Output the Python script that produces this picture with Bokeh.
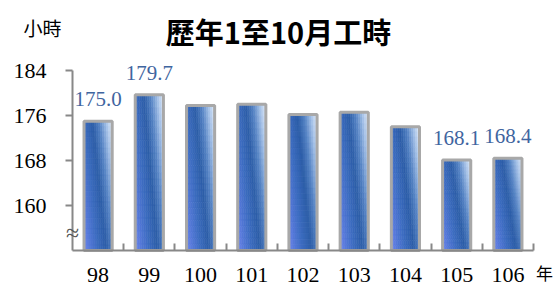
import numpy as np
from bokeh.plotting import figure
from bokeh.models import ColumnDataSource, FixedTicker, Label, LabelSet, Range1d
from bokeh.core.properties import value
from bokeh.embed import file_html
from bokeh.resources import INLINE

# ---- data ----
years = ["98", "99", "100", "101", "102", "103", "104", "105", "106"]
hours = [175.0, 179.7, 177.8, 178.0, 176.2, 176.6, 174.0, 168.1, 168.4]
shown_labels = ["175.0", "179.7", "", "", "", "", "", "168.1", "168.4"]
y_ticks = [160, 168, 176, 184]
y_floor = 152
y_top = 184
title_text = "歷年1至10月工時"
unit_y = "小時"
unit_x = "年"

SERIF = "Liberation Serif"
CJK = "Noto Sans CJK TC"

# ---- layout (pixels inside the canvas) ----
W, H = 558, 286
AX_LEFT, AX_RIGHT = 72, 533      # x pixel of category -0.5 and n-0.5
AX_TOP, AX_BOTTOM = 70, 250      # y pixel of y_top and y_floor

n = len(years)
idx = list(range(n))

px_x = (AX_RIGHT - AX_LEFT) / n
px_y = (AX_BOTTOM - AX_TOP) / (y_top - y_floor)
x0 = -0.5 - AX_LEFT / px_x
x1 = n - 0.5 + (W - AX_RIGHT) / px_x
y0 = y_floor - (H - AX_BOTTOM) / px_y
y1 = y_top + AX_TOP / px_y

p = figure(width=W, height=H, output_backend="svg", toolbar_location=None,
           x_range=Range1d(x0, x1), y_range=Range1d(y0, y1),
           min_border=0, min_border_left=0, min_border_right=0,
           min_border_top=0, min_border_bottom=0)
p.outline_line_color = None
p.grid.visible = False
p.background_fill_color = "white"
p.border_fill_color = "white"

# ---- gradient-filled bars (drawn as small cells) ----
bar_w = 0.55
ncol, nrow = 14, 24
stops_s = [-0.5, -0.25, 0.0, 0.3, 0.55, 0.8, 1.0]
stops_c = np.array([(0x70, 0x86, 0xee), (0x52, 0x77, 0xd6), (0x3c, 0x6c, 0xc0),
                    (0x2d, 0x5e, 0xa8), (0x55, 0x83, 0xc4), (0xa6, 0xc2, 0xe8),
                    (0xe0, 0xeb, 0xf9)], dtype=float)

L, R, B, T, C = [], [], [], [], []
for i, v in zip(idx, hours):
    h = v - y_floor
    for c in range(ncol):
        left = i - bar_w / 2 + c * bar_w / ncol
        right = left + bar_w / ncol
        u = (c + 0.5) / ncol
        for r in range(nrow):
            top = v - r * h / nrow
            bot = top - h / nrow
            s = u - 0.5 * (r + 0.5) / nrow
            rgb = [int(round(np.interp(s, stops_s, stops_c[:, k]))) for k in range(3)]
            L.append(left); R.append(right); B.append(bot); T.append(top)
            C.append("#%02x%02x%02x" % tuple(rgb))

cells = ColumnDataSource(dict(left=L, right=R, bottom=B, top=T, color=C))
p.quad(left="left", right="right", bottom="bottom", top="top", source=cells,
       fill_color="color", line_color="color", line_width=0.6)

bars = ColumnDataSource(dict(x=idx, top=hours, lab=shown_labels))
p.vbar(x="x", top="top", bottom=y_floor, width=bar_w, source=bars,
       fill_color=None, line_color="#a8a8a8", line_width=3)

# ---- value labels ----
p.add_layout(LabelSet(x="x", y="top", text="lab", source=bars,
                      text_align="center", text_baseline="bottom", y_offset=15,
                      text_font=value(SERIF), text_font_size="21px",
                      text_color="#3f65a0"))

# ---- axes (placed at fixed data positions, bounded to the data region) ----
ax = p.xaxis[0]
ax.fixed_location = y_floor
ax.bounds = (-0.5, n - 0.5)
ax.ticker = FixedTicker(ticks=idx, minor_ticks=[k + 0.5 for k in range(n)])
ax.major_label_overrides = {i: years[i] for i in idx}
ax.major_tick_in = 0
ax.major_tick_out = 0
ax.minor_tick_in = 7
ax.minor_tick_out = 0
ax.minor_tick_line_color = "#888888"
ax.minor_tick_line_width = 2
ax.axis_line_color = "#888888"
ax.axis_line_width = 2
ax.major_label_standoff = 17
ax.major_label_text_font = SERIF
ax.major_label_text_font_size = "22px"
ax.major_label_text_color = "black"

ay = p.yaxis[0]
ay.fixed_location = -0.5
ay.bounds = (y_floor, y_top)
ay.ticker = FixedTicker(ticks=y_ticks, minor_ticks=[])
ay.major_tick_in = 0
ay.major_tick_out = 7
ay.major_tick_line_color = "#888888"
ay.major_tick_line_width = 2
ay.axis_line_color = "#888888"
ay.axis_line_width = 2
ay.major_label_standoff = 19
ay.major_label_text_font = SERIF
ay.major_label_text_font_size = "22px"
ay.major_label_text_color = "black"

# axis break mark
p.add_layout(Label(x=-0.5, y=y_floor + 3.2, text="≈", text_align="center",
                   text_baseline="middle", text_font=SERIF, text_font_size="24px",
                   text_color="#555555"))

# ---- title and unit labels (screen px from frame's bottom-left) ----
p.add_layout(Label(x=278, y=H - 30, x_units="screen", y_units="screen", text=title_text,
                   text_align="center", text_baseline="middle",
                   text_font=CJK, text_font_size="29px", text_font_style="bold",
                   text_color="black"))
p.add_layout(Label(x=42, y=H - 27, x_units="screen", y_units="screen", text=unit_y,
                   text_align="center", text_baseline="middle",
                   text_font=CJK, text_font_size="19px", text_color="black"))
p.add_layout(Label(x=544, y=H - 272, x_units="screen", y_units="screen", text=unit_x,
                   text_align="center", text_baseline="middle",
                   text_font=CJK, text_font_size="17px", text_color="black"))

open("out.html", "w").write(file_html(p, INLINE))
